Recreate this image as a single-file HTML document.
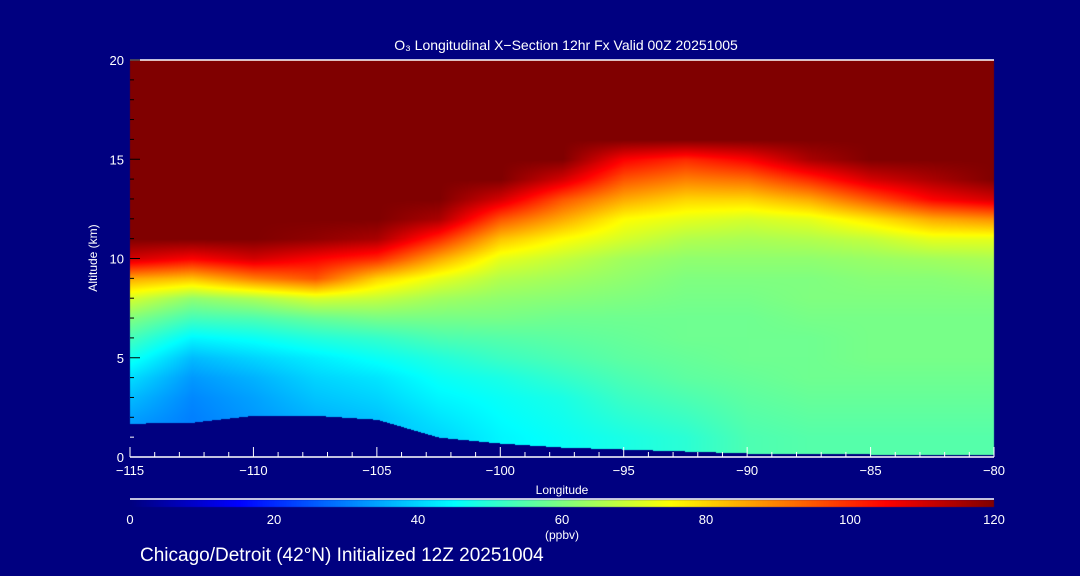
<!DOCTYPE html>
<html><head><meta charset="utf-8"><style>
body{margin:0;background:#000080;width:1080px;height:576px;overflow:hidden;font-family:"Liberation Sans",sans-serif}
#wrap{position:relative;width:1080px;height:576px}
canvas{position:absolute;left:0;top:0}
svg{position:absolute;left:0;top:0}
</style></head><body><div id="wrap">
<canvas id="cv" width="1080" height="576"></canvas>
<svg id="sv" width="1080" height="576"></svg>
</div>
<script>
const lons=[-115,-112.5,-110,-107.5,-105,-102.5,-100,-97.5,-95,-92.5,-90,-87.5,-85,-82.5,-80];
const alts=[0,1,2,3,4,5,6,7,8,9,10,11,12,13,14,15,16,17,18,19,20];
const ozone=[
[32,30,32,34,38,40,44,46,48,50,54,55,55,55,55],
[32,30,32,34,38,40,44,46,48,50,54,55,55,55,55],
[34,30,33,36,38,42,45,47,50,52,55,56,56,56,56],
[37,31,34,38,40,44,46,48,52,54,56,57,57,57,57],
[41,33,36,40,42,46,48,51,54,56,57,58,58,58,58],
[47,37,40,43,46,49,52,54,56,57,58,58,59,59,59],
[53,44,46,49,51,54,55,56,57,58,58,58,59,59,59],
[60,53,54,57,59,59,59,58,58,58,58,59,59,59,59],
[70,62,65,70,68,64,62,61,60,59,59,60,60,60,60],
[85,82,90,95,80,72,66,64,62,60,60,60,61,61,62],
[110,105,110,105,100,85,72,68,64,62,62,62,63,64,65],
[120,120,120,118,115,100,82,75,70,66,65,66,68,72,72],
[120,120,120,120,120,115,95,85,75,72,70,72,78,85,88],
[120,120,120,120,120,120,110,95,85,80,80,85,95,105,110],
[120,120,120,120,120,120,120,110,95,90,92,100,110,115,120],
[120,120,120,120,120,120,120,120,105,100,105,115,120,120,120],
[120,120,120,120,120,120,120,120,120,120,120,120,120,120,120],
[120,120,120,120,120,120,120,120,120,120,120,120,120,120,120],
[120,120,120,120,120,120,120,120,120,120,120,120,120,120,120],
[120,120,120,120,120,120,120,120,120,120,120,120,120,120,120],
[120,120,120,120,120,120,120,120,120,120,120,120,120,120,120]];
const terrain=[1.7,1.75,2.1,2.1,1.9,1.0,0.7,0.5,0.4,0.3,0.2,0.2,0.15,0.15,0.15];
const xTicks=[-115,-110,-105,-100,-95,-90,-85,-80];
const yTicks=[0,5,10,15,20];
const cbTicks=[0,20,40,60,80,100,120];

const X0=130,X1=994,Y0=457,Y1=60;
const xs=v=>X0+(v+115)/35*(X1-X0);
const ys=v=>Y0-v/20*(Y0-Y1);
const cbx=v=>X0+v/120*(X1-X0);
function jet(v){let t=Math.max(0,Math.min(1,v/120));
 const f=(a)=>Math.max(0,Math.min(1,1.5-Math.abs(4*t-a)));
 return [255*f(3),255*f(2),255*f(1)].map(Math.round);}
function val(lon,alt){
 let fi=(lon+115)/2.5, fj=alt;
 let i=Math.min(13,Math.max(0,Math.floor(fi))), j=Math.min(19,Math.max(0,Math.floor(fj)));
 let a=fi-i,b=fj-j;
 return (ozone[j][i]*(1-a)+ozone[j][i+1]*a)*(1-b)+(ozone[j+1][i]*(1-a)+ozone[j+1][i+1]*a)*b;}
function terr(lon){let fi=(lon+115)/2.5;let i=Math.min(13,Math.max(0,Math.floor(fi)));let a=fi-i;return terrain[i]*(1-a)+terrain[i+1]*a;}
const cv=document.getElementById('cv'),ctx=cv.getContext('2d');
const img=ctx.createImageData(X1-X0,Y0-Y1);
for(let py=0;py<Y0-Y1;py++)for(let px=0;px<X1-X0;px++){
 const lon=-115+px/(X1-X0)*35, alt=(Y0-Y1-py)/(Y0-Y1)*20;
 let c=alt<terr(lon)?[0,0,128]:jet(val(lon,alt));
 const k=(py*(X1-X0)+px)*4;img.data[k]=c[0];img.data[k+1]=c[1];img.data[k+2]=c[2];img.data[k+3]=255;}
ctx.putImageData(img,X0,Y1);
const cimg=ctx.createImageData(X1-X0,7);
for(let py=0;py<7;py++)for(let px=0;px<X1-X0;px++){const c=jet(px/(X1-X0)*120);const k=(py*(X1-X0)+px)*4;cimg.data[k]=c[0];cimg.data[k+1]=c[1];cimg.data[k+2]=c[2];cimg.data[k+3]=255;}
ctx.putImageData(cimg,X0,500);

const sv=document.getElementById('sv');const NS='http://www.w3.org/2000/svg';
function el(t,a,txt){const e=document.createElementNS(NS,t);for(const k in a)e.setAttribute(k,a[k]);if(txt!==undefined)e.textContent=txt;sv.appendChild(e);return e;}
let e;
e=el('line',{x1:X0,y1:Y1,x2:X1,y2:Y1,stroke:'#fff','stroke-width':1.5});

e=el('line',{x1:X0,y1:Y0,x2:X1,y2:Y0,stroke:'#fff','stroke-width':1.5});

e=el('line',{x1:X0,y1:499,x2:X1,y2:499,stroke:'#fff','stroke-width':1.5});

for(let l=-115;l<=-80;l++){const maj=l%5===0;
 e=el('line',{x1:xs(l),y1:Y0,x2:xs(l),y2:Y0-(maj?10:5),stroke:'#fff','stroke-width':1});
 }
for(let a=0;a<=20;a++){const maj=a%5===0;
 e=el('line',{x1:X0,y1:ys(a),x2:X0+(maj?10:4),y2:ys(a),stroke:a<2?'#fff':'#000','stroke-width':1});
 }
const tx={fill:'#fff','font-size':13};
xTicks.forEach(v=>{e=el('text',Object.assign({x:xs(v),y:475,'text-anchor':'middle'},tx),'\u2212'+Math.abs(v));
 });
yTicks.forEach(v=>{e=el('text',Object.assign({x:X0-6,y:ys(v)+5,'text-anchor':'end'},tx),String(v));
 });
cbTicks.forEach(v=>{e=el('text',Object.assign({x:cbx(v),y:524,'text-anchor':'middle'},tx),String(v));
 });
e=el('text',{x:562,y:494,'text-anchor':'middle',fill:'#fff','font-size':12},'Longitude');

e=el('text',{x:97,y:258,'text-anchor':'middle',fill:'#fff','font-size':12,transform:'rotate(-90 97 258)'},'Altitude (km)');

e=el('text',{x:562,y:539,'text-anchor':'middle',fill:'#fff','font-size':12},'(ppbv)');

e=el('text',{x:566,y:50,'text-anchor':'middle',fill:'#fff','font-size':14},'O\u2083 Longitudinal X\u2212Section 12hr  Fx Valid 00Z 20251005');

e=el('text',{x:140,y:561,fill:'#fff','font-size':19},'Chicago/Detroit (42\u00b0N) Initialized 12Z 20251004');

</script></body></html>
